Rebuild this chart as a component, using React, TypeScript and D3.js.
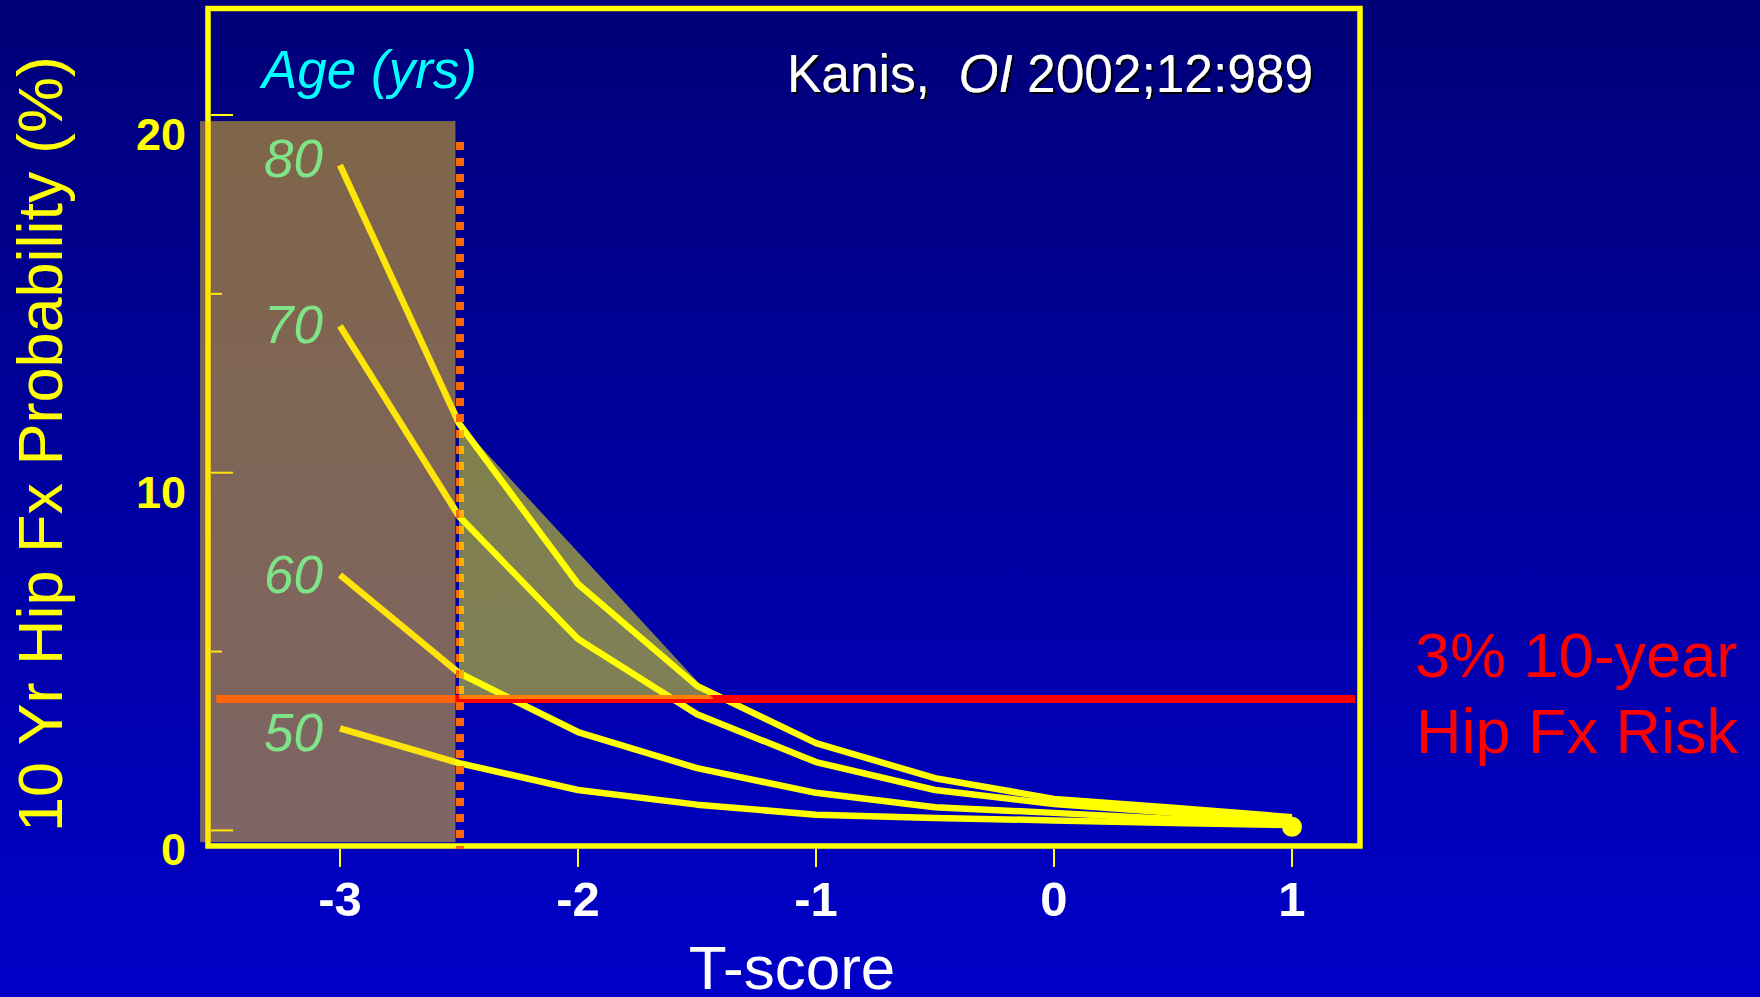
import React from "react";
import * as d3 from "d3";

// ---- data ----
const tScores = [-3, -2.5, -2, -1.5, -1, -0.5, 0, 0.5, 1];
const ages = ["80", "70", "60", "50"];
const prob80 = [18.6, 11.38, 6.89, 4.04, 2.44, 1.46, 0.88, 0.63, 0.37];
const prob70 = [14.1, 8.78, 5.35, 3.25, 1.91, 1.13, 0.74, 0.49, 0.32];
const prob60 = [7.14, 4.4, 2.75, 1.74, 1.05, 0.65, 0.49, 0.32, 0.23];
const prob50 = [2.85, 1.88, 1.13, 0.72, 0.44, 0.35, 0.28, 0.21, 0.15];
const series = [prob80, prob70, prob60, prob50];
const yTicks = [0, 5, 10, 15, 20];
const yTickLabels = ["0", "", "10", "", "20"];
const xTicks = [-3, -2, -1, 0, 1];
const xTickLabels = ["-3", "-2", "-1", "0", "1"];
const threshold = 3.67;
const thresholdX = [-3.52, 1.265];
const osteoCut = -2.5;
const shadeRectX = [-3.588, -2.515];
const shadeRectY = [-0.33, 19.83];
const triX = [-2.5, -2.5, -1.43];
const triY = [11.38, 3.67, 3.67];
const endDot = { t: 1, p: 0.1 };

const FONT = "'Liberation Sans', Arial, Helvetica, sans-serif";

export default function App() {
  const W = 1760;
  const H = 997;
  const x = d3.scaleLinear().domain([-3, 1]).range([340, 1292]);
  const y = d3.scaleLinear().domain([0, 20]).range([830.4, 115]);

  const line = d3
    .line<number>()
    .x((_, i) => x(tScores[i]))
    .y((d) => y(d));

  const frame = { l: 208, t: 8.5, r: 1360, b: 846 };
  const labelDy = [12, 17, 18, 23];

  const tri = d3.line<number>()
    .x((_, i) => x(triX[i]))
    .y((_, i) => y(triY[i]));

  return (
    <svg
      width={W}
      height={H}
      viewBox={`0 0 ${W} ${H}`}
      style={{ position: "absolute", left: 0, top: 0, display: "block" }}
    >
      <defs>
        <linearGradient id="bg" x1="0" y1="0" x2="0" y2="1">
          <stop offset="0" stopColor="#000078" />
          <stop offset="1" stopColor="#0000c8" />
        </linearGradient>
        <filter id="shadow" x="-5%" y="-20%" width="110%" height="140%">
          <feDropShadow dx="2" dy="2" stdDeviation="0.3" floodColor="#000" floodOpacity="1" />
        </filter>
      </defs>
      <rect x={0} y={0} width={W} height={H} fill="url(#bg)" />

      {/* frame */}
      <rect
        x={frame.l}
        y={frame.t}
        width={frame.r - frame.l}
        height={frame.b - frame.t}
        fill="none"
        stroke="#ffff00"
        strokeWidth={5.5}
      />

      {/* y ticks */}
      {yTicks.map((v, i) => (
        <line
          key={"yt" + v}
          x1={frame.l + 3}
          x2={frame.l + (yTickLabels[i] ? 25 : 14)}
          y1={y(v)}
          y2={y(v)}
          stroke="#ffff00"
          strokeWidth={2}
        />
      ))}
      {yTicks.map((v, i) =>
        yTickLabels[i] ? (
          <text
            key={"yl" + v}
            x={186}
            y={y(v) + 35}
            textAnchor="end"
            fill="#ffff00"
            fontFamily={FONT}
            fontWeight="bold"
            fontSize={45}
          >
            {yTickLabels[i]}
          </text>
        ) : null
      )}

      {/* x ticks */}
      {xTicks.map((v) => (
        <line
          key={"xt" + v}
          x1={x(v)}
          x2={x(v)}
          y1={frame.b + 3}
          y2={frame.b + 21}
          stroke="#ffff00"
          strokeWidth={2}
        />
      ))}
      {xTicks.map((v, i) => (
        <text
          key={"xl" + v}
          x={x(v)}
          y={916}
          textAnchor="middle"
          fill="#ffffff"
          fontFamily={FONT}
          fontWeight="bold"
          fontSize={49}
        >
          {xTickLabels[i]}
        </text>
      ))}

      {/* curves */}
      {series.map((s, i) => (
        <path
          key={"s" + i}
          d={line(s) || ""}
          fill="none"
          stroke="#ffff00"
          strokeWidth={6.5}
          strokeLinejoin="round"
        />
      ))}
      <circle cx={x(endDot.t)} cy={y(endDot.p)} r={10} fill="#ffff00" />

      {/* threshold */}
      <line
        x1={x(thresholdX[0])}
        x2={x(thresholdX[1])}
        y1={y(threshold)}
        y2={y(threshold)}
        stroke="#ff0000"
        strokeWidth={8}
      />

      {/* osteoporosis cut dotted line */}
      <line
        x1={x(osteoCut) + 1}
        x2={x(osteoCut) + 1}
        y1={142}
        y2={849}
        stroke="#ff6600"
        strokeWidth={8}
        strokeDasharray="8 8"
      />

      {/* age labels */}
      {ages.map((a, i) => (
        <text
          key={"age" + a}
          x={x(-3) - 17}
          y={y(series[i][0]) + labelDy[i]}
          textAnchor="end"
          fill="#00ffff"
          fontFamily={FONT}
          fontStyle="italic"
          fontSize={53}
        >
          {a}
        </text>
      ))}

      {/* overlays */}
      <rect
        x={x(shadeRectX[0])}
        y={y(shadeRectY[1])}
        width={x(shadeRectX[1]) - x(shadeRectX[0])}
        height={y(shadeRectY[0]) - y(shadeRectY[1])}
        fill="#feca10"
        fillOpacity={0.5}
      />
      <path d={(tri(triX) || "") + "Z"} fill="#ffff00" fillOpacity={0.5} />

      {/* texts */}
      <text
        x={262}
        y={88}
        fill="#00ffff"
        fontFamily={FONT}
        fontStyle="italic"
        fontSize={53}
      >
        Age (yrs)
      </text>
      <text
        x={1313}
        y={92}
        textAnchor="end"
        fill="#ffffff"
        fontFamily={FONT}
        fontSize={54}
        filter="url(#shadow)"
        textLength={526}
        lengthAdjust="spacingAndGlyphs"
      >
        Kanis,{"\u00a0 "}
        <tspan fontStyle="italic">OI</tspan> 2002;12:989
      </text>

      <text
        x={62}
        y={444}
        transform="rotate(-90 62 444)"
        textAnchor="middle"
        fill="#ffff00"
        fontFamily={FONT}
        fontSize={63}
      >
        10 Yr Hip Fx Probability (%)
      </text>
      <text
        x={792}
        y={989}
        textAnchor="middle"
        fill="#ffffff"
        fontFamily={FONT}
        fontSize={62}
      >
        T-score
      </text>

      <text x={1415} y={677} fill="#ff0000" fontFamily={FONT} fontSize={63}>
        3% 10-year
      </text>
      <text x={1416} y={753} fill="#ff0000" fontFamily={FONT} fontSize={63}>
        Hip Fx Risk
      </text>
    </svg>
  );
}
